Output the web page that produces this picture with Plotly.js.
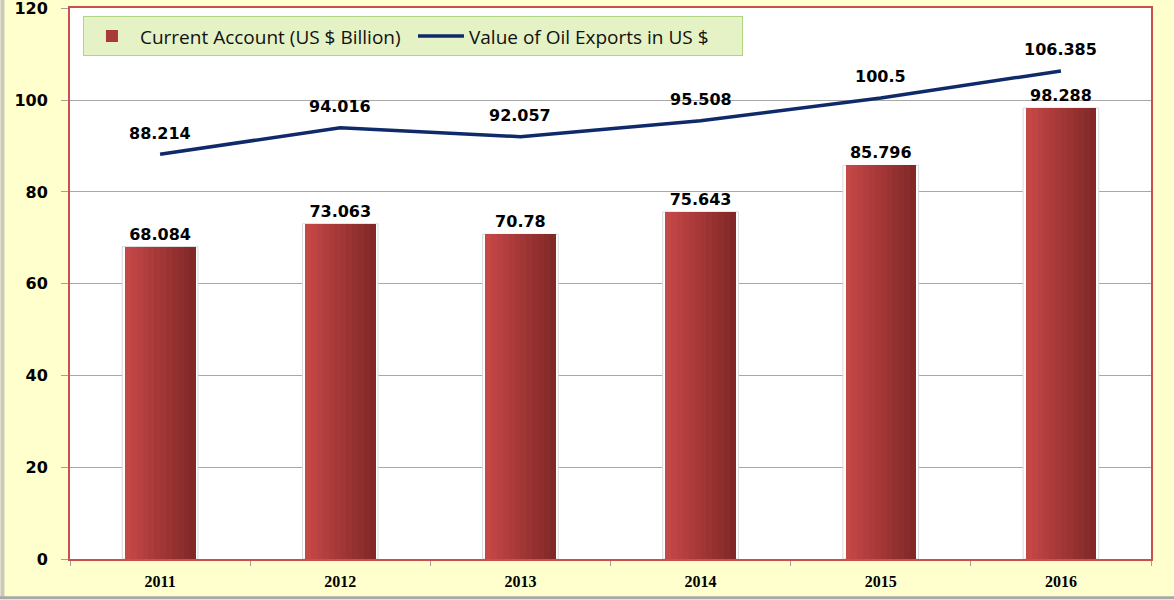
<!DOCTYPE html>
<html>
<head>
<meta charset="utf-8">
<script src="https://cdn.plot.ly/plotly-3.0.1.min.js"></script>
<style>html,body{margin:0;padding:0;background:#fff;}#chart{width:1174px;height:600px;}</style>
</head>
<body>
<div id="chart"></div>
<script>
var years = ['2011', '2012', '2013', '2014', '2015', '2016'];
var currentAccount = [68.084, 73.063, 70.78, 75.643, 85.796, 98.288];
var oilExports = [88.214, 94.016, 92.057, 95.508, 100.5, 106.385];
var yTicks = [0, 20, 40, 60, 80, 100, 120];

var barWidth = 0.39;
var nStripes = 12;
var c0 = [196, 72, 70], c1 = [130, 40, 40];
var traces = [];

// white halo behind bars
traces.push({
  type: 'bar', x: years, y: currentAccount, width: barWidth + 0.03,
  marker: {color: '#ffffff', line: {color: '#d9d9d9', width: 1}},
  showlegend: false, hoverinfo: 'skip'
});
for (var i = 0; i < nStripes; i++) {
  var t = i / (nStripes - 1);
  var col = 'rgb(' + c0.map(function (v, k) { return Math.round(v + (c1[k] - v) * t); }).join(',') + ')';
  var w = barWidth / nStripes;
  traces.push({
    type: 'bar', x: years, y: currentAccount,
    width: w * 1.05, offset: -barWidth / 2 + i * w,
    marker: {color: col, line: {width: 0}},
    name: 'Current Account (US $ Billion)',
    showlegend: false, hoverinfo: 'skip'
  });
}
// labels carrier
traces.push({
  type: 'bar', x: years, y: currentAccount, width: barWidth,
  marker: {color: 'rgba(0,0,0,0)', line: {width: 0}},
  name: 'Current Account (US $ Billion)',
  text: currentAccount.map(String), textposition: 'outside', cliponaxis: false,
  textfont: {family: 'DejaVu Sans', size: 16, color: '#000', weight: 'bold'},
  showlegend: false
});
// legend entry for bars
traces.push({
  type: 'bar', x: [null], y: [null],
  marker: {color: '#A83A38'},
  name: 'Current Account (US $ Billion)', showlegend: true
});
traces.push({
  type: 'scatter', mode: 'lines', x: years, y: oilExports,
  line: {color: '#0E2A6A', width: 3.5},
  name: 'Value of Oil Exports in US $'
});

var annotations = years.map(function (yr, k) {
  return {xref: 'x', yref: 'y', x: k, y: oilExports[k], text: String(oilExports[k]), showarrow: false,
    yshift: 21, font: {family: 'DejaVu Sans', size: 16, color: '#000', weight: 'bold'}};
});

var layout = {
  width: 1174, height: 600,
  margin: {l: 70, r: 23, t: 8, b: 41},
  paper_bgcolor: '#FFFFCD',
  plot_bgcolor: '#ffffff',
  barmode: 'overlay',
  bargap: 0,
  showlegend: true,
  legend: {
    orientation: 'h', x: 0.012, y: 0.985, xanchor: 'left', yanchor: 'top',
    bgcolor: '#E4F2C6', bordercolor: '#B2D487', borderwidth: 1,
    font: {family: 'Open Sans', size: 19, color: '#111'},
    itemwidth: 46, entrywidth: 268, traceorder: 'normal'
  },
  xaxis: {
    type: 'category', categoryarray: years, range: [-0.5, 5.5],
    showline: true, linecolor: '#C9504C', linewidth: 2, mirror: true,
    ticks: 'outside', tickson: 'boundaries', ticklen: 5, tickcolor: '#a0a0a0',
    ticklabelstandoff: 7,
    tickfont: {family: 'Liberation Serif', size: 16, color: '#000', weight: 'bold'},
    showgrid: false, zeroline: false
  },
  yaxis: {
    range: [0, 120.1], tickvals: yTicks, ticktext: yTicks.map(String),
    showline: true, linecolor: '#C9504C', linewidth: 2, mirror: true,
    ticks: 'outside', ticklen: 7, tickcolor: '#a0a0a0',
    ticklabelstandoff: 10, ticklabeloverflow: 'allow',
    tickfont: {family: 'DejaVu Sans', size: 16, color: '#000', weight: 'bold'},
    showgrid: true, gridcolor: '#A8A8A8', gridwidth: 1, zeroline: false
  },
  annotations: annotations,
  shapes: [
    {type: 'line', xref: 'paper', yref: 'paper', x0: -0.0625, x1: -0.0625, y0: -0.069, y1: 1.02,
      line: {color: '#c8c8c0', width: 4}},
    {type: 'line', xref: 'paper', yref: 'paper', x0: -0.0648, x1: 1.03, y0: -0.0705, y1: -0.0705,
      line: {color: '#a8a8a8', width: 3}}
  ]
};

Plotly.newPlot('chart', traces, layout, {displayModeBar: false, staticPlot: true});
</script>
</body>
</html>
